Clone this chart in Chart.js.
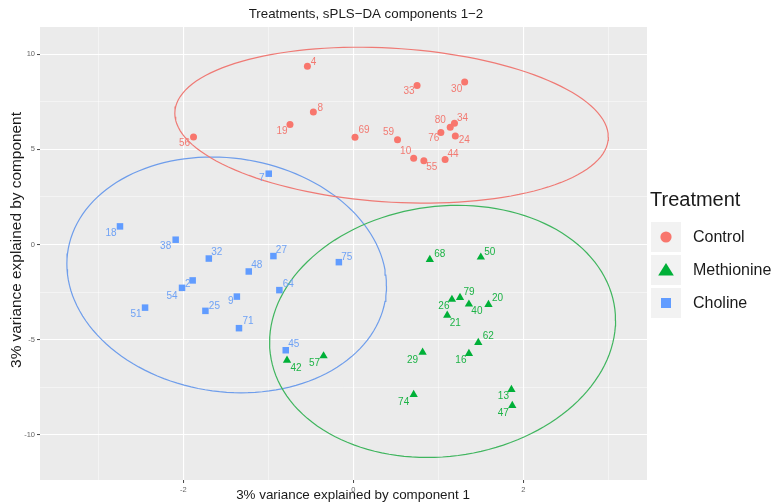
<!DOCTYPE html>
<html>
<head>
<meta charset="utf-8">
<script src="https://cdn.jsdelivr.net/npm/chart.js@4.4.1/dist/chart.umd.min.js"></script>
<style>
  html, body { margin: 0; padding: 0; background: #ffffff; }
  #wrap { width: 779px; height: 502px; }
</style>
</head>
<body>
<div id="wrap"><canvas id="c" width="779" height="502"></canvas></div>
<script>
// ---- sample scores on sPLS-DA components 1 and 2 ----
const groups = ['Control', 'Methionine', 'Choline'];

const controlIds = ['4', '33', '30', '8', '19', '56', '69', '59', '80', '34', '76', '24', '10', '55', '44'];
const controlX   = [-0.54, 0.75, 1.31, -0.47, -0.745, -1.88, 0.02, 0.52, 1.14, 1.19, 1.03, 1.20, 0.71, 0.83, 1.08];
const controlY   = [9.37, 8.35, 8.54, 6.96, 6.30, 5.65, 5.63, 5.51, 6.16, 6.37, 5.88, 5.70, 4.53, 4.40, 4.46];

const methionineIds = ['42', '57', '68', '50', '79', '26', '40', '20', '21', '62', '29', '16', '74', '13', '47'];
const methionineX   = [-0.78, -0.35, 0.90, 1.50, 1.255, 1.16, 1.36, 1.59, 1.105, 1.47, 0.815, 1.36, 0.71, 1.86, 1.87];
const methionineY   = [-6.09, -5.86, -0.79, -0.67, -2.79, -2.89, -3.14, -3.16, -3.72, -5.16, -5.67, -5.74, -7.89, -7.63, -8.47];

const cholineIds = ['7', '18', '38', '32', '27', '75', '48', '2', '54', '64', '9', '51', '25', '71', '45'];
const cholineX   = [-0.995, -2.745, -2.09, -1.70, -0.94, -0.17, -1.23, -1.89, -2.015, -0.87, -1.37, -2.45, -1.74, -1.345, -0.795];
const cholineY   = [3.72, 0.95, 0.25, -0.74, -0.61, -0.93, -1.42, -1.89, -2.28, -2.40, -2.74, -3.32, -3.49, -4.40, -5.56];

// confidence ellipse per group: centre, half-width, tilt term and vertical half-axis
const ellipseCentreX    = [0.45, 1.05, -1.49];
const ellipseCentreY    = [6.27, -4.57, -1.60];
const ellipseHalfWidth  = [2.55, 2.035, 1.88];
const ellipseTilt       = [-0.62, 0.58, -0.57];
const ellipseHalfHeight = [4.05, 6.60, 6.17];

// axis ticks (labelled ones and the minor grid between them)
const xTickValues = [-3, -2, -1, 0, 1, 2, 3];
const xTickLabels = [-2, 0, 2];
const yTickValues = [-10, -7.5, -5, -2.5, 0, 2.5, 5, 7.5, 10];
const yTickLabels = [-10, -5, 0, 5, 10];

// ---- presentation ----
// text offsets (px) of each sample id from its marker, in the same order as the ids
const labelNudge = {
  Control: [[6,-4],[-8,6],[-8,7],[7,-4],[-8,7],[-9,6],[9,-7],[-9,-7],[-10,-7],[8,-5],[-7,6],[9,4],[-8,-7],[8,6],[8,-5]],
  Methionine: [[9,8],[-9,7],[10,-5],[9,-5],[9,-5],[-8,7],[8,7],[9,-6],[8,8],[10,-6],[-10,8],[-8,7],[-10,8],[-8,7],[-9,8]],
  Choline: [[-7,5],[-9,7],[-10,7],[8,-6],[8,-6],[8,-5],[8,-6],[-5,4],[-10,8],[9,-6],[-6,5],[-9,7],[9,-5],[9,-7],[8,-6]]
};

const FONT = '"Liberation Sans", Arial, Helvetica, sans-serif';
const colours = { Control: '#F8766D', Methionine: '#00B038', Choline: '#619CFF' };
const labelColours = { Control: '#F27A72', Methionine: '#1DB346', Choline: '#6FA2F5' };
const ellipseColours = ['#EF7A75', '#3FB55E', '#6E9DEB'];
const pointStyles = { Control: 'circle', Methionine: 'triangle', Choline: 'rect' };
const pointRadii = { Control: 3.5, Methionine: 4.8, Choline: 4.6 };

const seriesX = [controlX, methionineX, cholineX];
const seriesY = [controlY, methionineY, cholineY];
const seriesIds = [controlIds, methionineIds, cholineIds];

function toPoints(xs, ys) {
  return xs.map((x, i) => ({ x: x, y: ys[i] }));
}

function ellipsePath(g) {
  const pts = [];
  const n = 140;
  for (let i = 0; i <= n; i++) {
    const t = (i / n) * Math.PI * 2;
    pts.push({
      x: ellipseCentreX[g] + ellipseHalfWidth[g] * Math.cos(t),
      y: ellipseCentreY[g] + ellipseTilt[g] * Math.cos(t) + ellipseHalfHeight[g] * Math.sin(t)
    });
  }
  return pts;
}

const datasets = [];
groups.forEach((g, i) => {
  datasets.push({
    label: g,
    data: toPoints(seriesX[i], seriesY[i]),
    pointStyle: pointStyles[g],
    pointRadius: pointRadii[g],
    pointBackgroundColor: colours[g],
    pointBorderWidth: 0,
    backgroundColor: colours[g],
    borderColor: colours[g],
    showLine: false,
    order: 1
  });
});
groups.forEach((g, i) => {
  datasets.push({
    label: g + ' ellipse',
    data: ellipsePath(i),
    showLine: true,
    borderColor: ellipseColours[i],
    borderWidth: 1.2,
    pointRadius: 0,
    fill: false,
    tension: 0,
    order: 2
  });
});

const panelBackground = {
  id: 'panelBackground',
  beforeDraw(chart) {
    const { ctx, chartArea: a } = chart;
    ctx.save();
    ctx.fillStyle = '#EBEBEB';
    ctx.fillRect(a.left, a.top, a.right - a.left, a.bottom - a.top);
    ctx.restore();
  }
};

const sampleLabels = {
  id: 'sampleLabels',
  afterDatasetsDraw(chart) {
    const ctx = chart.ctx;
    ctx.save();
    ctx.font = '10px ' + FONT;
    ctx.textAlign = 'center';
    ctx.textBaseline = 'middle';
    groups.forEach((g, i) => {
      const meta = chart.getDatasetMeta(i);
      ctx.fillStyle = labelColours[g];
      meta.data.forEach((el, j) => {
        const d = labelNudge[g][j];
        ctx.fillText(seriesIds[i][j], el.x + d[0], el.y + d[1]);
      });
    });
    ctx.restore();
  }
};

const textAndLegend = {
  id: 'textAndLegend',
  afterDraw(chart) {
    const ctx = chart.ctx;
    ctx.save();
    ctx.fillStyle = '#1a1a1a';
    ctx.textBaseline = 'middle';
    ctx.textAlign = 'center';

    // plot title
    ctx.font = '13.3px ' + FONT;
    ctx.fillText('Treatments, sPLS\u2212DA components 1\u22122', 366, 14);

    // axis titles
    ctx.font = '13.4px ' + FONT;
    ctx.fillText('3% variance explained by component 1', 353, 495);
    ctx.save();
    ctx.translate(17, 240);
    ctx.rotate(-Math.PI / 2);
    ctx.font = '15.4px ' + FONT;
    ctx.fillText('3% variance explained by component', 0, 0);
    ctx.restore();

    // legend
    ctx.textAlign = 'left';
    ctx.font = '20px ' + FONT;
    ctx.fillText('Treatment', 650, 200);
    const rowTops = [222, 255, 288];
    groups.forEach((g, i) => {
      const top = rowTops[i];
      ctx.fillStyle = '#F2F2F2';
      ctx.fillRect(651, top, 30, 30);
      const cx = 666, cy = top + 15;
      ctx.fillStyle = colours[g];
      ctx.beginPath();
      if (pointStyles[g] === 'circle') {
        ctx.arc(cx, cy, 5.6, 0, Math.PI * 2);
      } else if (pointStyles[g] === 'triangle') {
        ctx.moveTo(cx, cy - 7);
        ctx.lineTo(cx + 7.8, cy + 5.5);
        ctx.lineTo(cx - 7.8, cy + 5.5);
        ctx.closePath();
      } else {
        ctx.rect(cx - 5, cy - 5, 10, 10);
      }
      ctx.fill();
      ctx.fillStyle = '#1a1a1a';
      ctx.font = '16px ' + FONT;
      ctx.fillText(g, 693, cy + 1);
    });
    ctx.restore();
  }
};

function axis(min, max, tickValues, tickLabels, isX) {
  const major = v => tickLabels.some(t => Math.abs(t - v) < 1e-9);
  return {
    type: 'linear',
    min: min,
    max: max,
    afterBuildTicks: s => { s.ticks = tickValues.map(v => ({ value: v })); },
    afterFit: s => { if (isX) { s.height = 22; } else { s.width = 40; } },
    border: { display: false },
    grid: {
      color: c => (c.tick && major(c.tick.value)) ? '#FFFFFF' : 'rgba(255,255,255,0.85)',
      lineWidth: c => (c.tick && major(c.tick.value)) ? 1.1 : 0.55,
      drawTicks: true,
      tickLength: 3,
      tickWidth: 1,
      tickColor: c => (c.tick && major(c.tick.value)) ? '#444444' : 'rgba(0,0,0,0)'
    },
    ticks: {
      autoSkip: false,
      maxRotation: 0,
      padding: 2,
      color: '#666666',
      font: { family: FONT, size: 7.5 },
      callback: v => major(v) ? String(v) : ''
    }
  };
}

new Chart(document.getElementById('c'), {
  type: 'scatter',
  data: { datasets: datasets },
  options: {
    responsive: false,
    animation: false,
    layout: { padding: { left: 0, right: 132, top: 27, bottom: 0 } },
    plugins: {
      legend: { display: false },
      title: { display: false },
      tooltip: { enabled: false }
    },
    scales: {
      x: axis(-3.686, 3.455, xTickValues, xTickLabels, true),
      y: axis(-12.38, 11.43, yTickValues, yTickLabels, false)
    }
  },
  plugins: [panelBackground, sampleLabels, textAndLegend]
});
</script>
</body>
</html>
